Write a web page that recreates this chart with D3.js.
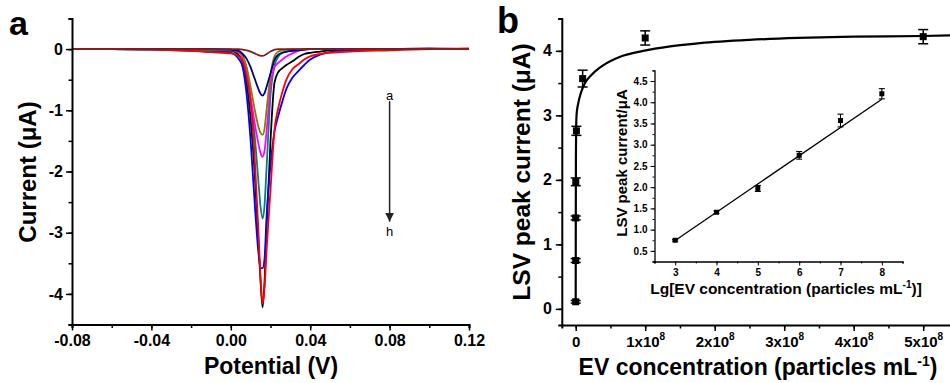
<!DOCTYPE html>
<html><head><meta charset="utf-8">
<script src="https://cdn.jsdelivr.net/npm/d3@7"></script>
<style>
body{margin:0;background:#fff;}
svg{display:block;}
text{font-family:"Liberation Sans",Arial,sans-serif;}
</style>
</head><body>
<svg id="chart" width="950" height="383"></svg>
<script>
// ---------- Panel a data: LSV curves (potential V, current uA) ----------
const potentials = [-0.08,-0.06,-0.04,-0.02,-0.01,0.000,0.004,0.006,0.008,0.010,0.012,0.014,0.015,0.016,0.017,0.018,0.020,0.022,0.024,0.026,0.028,0.031,0.034,0.037,0.040,0.045,0.050,0.060,0.080,0.100,0.120];
const currentA = [0,0,0,0,0,0,0,-0.01,-0.02,-0.04,-0.07,-0.10,-0.11,-0.11,-0.10,-0.08,-0.04,-0.01,0,0,0,0,0,0,0,0,0,0,0,0,0];
const currentB = [0,0,0,0,0,-0.01,-0.03,-0.08,-0.16,-0.30,-0.48,-0.66,-0.73,-0.76,-0.72,-0.62,-0.40,-0.18,-0.09,-0.06,-0.04,-0.03,-0.02,-0.01,0,0,0,0,0,0,0];
const currentC = [0,0,0,0,0,-0.01,-0.04,-0.12,-0.30,-0.62,-0.98,-1.28,-1.37,-1.40,-1.30,-1.00,-0.42,-0.12,-0.04,-0.02,-0.01,0,0,0,0,0,0,0,0,0,0];
const currentD = [0,0,0,0,0,-0.01,-0.05,-0.14,-0.36,-0.78,-1.20,-1.56,-1.70,-1.76,-1.66,-1.35,-0.60,-0.30,-0.22,-0.17,-0.12,-0.07,-0.03,-0.01,0,0,0,0,0,0,0];
const currentE = [0,0,-0.01,-0.01,-0.02,-0.02,-0.06,-0.12,-0.32,-0.85,-1.40,-2.20,-2.58,-2.77,-2.55,-1.95,-0.75,-0.28,-0.12,-0.06,-0.04,-0.02,-0.01,0,0,0,0,0,0,0,0];
const currentF = [0,0,-0.01,-0.03,-0.04,-0.06,-0.16,-0.30,-0.75,-1.50,-2.50,-3.35,-3.58,-3.58,-3.42,-2.75,-1.90,-1.35,-1.08,-0.85,-0.65,-0.47,-0.36,-0.26,-0.17,-0.09,-0.05,-0.02,0,0.01,0];
const currentG = [0,0,-0.01,-0.03,-0.05,-0.07,-0.12,-0.20,-0.45,-0.88,-1.75,-3.05,-3.75,-4.16,-3.90,-3.30,-2.30,-1.32,-0.95,-0.70,-0.50,-0.33,-0.25,-0.17,-0.12,-0.08,-0.06,-0.04,-0.02,0,0.01];
const currentH = [0,0,0,-0.01,-0.02,-0.03,-0.10,-0.22,-0.55,-1.15,-2.00,-3.20,-3.80,-4.22,-3.80,-2.95,-1.50,-0.55,-0.37,-0.31,-0.26,-0.20,-0.13,-0.08,-0.06,-0.04,-0.02,-0.01,0,0,0];
const curveSeries = [currentH, currentF, currentE, currentD, currentC, currentB, currentG, currentA];
const curveColors = ["#000000", "#0000ff", "#008080", "#ff00ff", "#808000", "#000080", "#ff0000", "#7f1f1f"];
const potentialTicks = [-0.08, -0.04, 0.00, 0.04, 0.08, 0.12];
const potentialTickLabels = ["-0.08", "-0.04", "0.00", "0.04", "0.08", "0.12"];
const currentTicks = [0, -1, -2, -3, -4];
const currentTickLabels = ["0", "-1", "-2", "-3", "-4"];

// ---------- Panel b data ----------
const evConc = [0, 1e3, 1e4, 1e5, 1e6, 1e7, 1e8, 5e8];
const peakCurrent = [0.11, 0.75, 1.41, 1.97, 2.76, 3.57, 4.20, 4.22];
const peakError = [0.02, 0.03, 0.03, 0.06, 0.07, 0.13, 0.11, 0.11];
const fitConc = [0, 0.001e8, 0.003e8, 0.006e8, 0.014e8, 0.037e8, 0.072e8, 0.134e8, 0.23e8, 0.40e8, 0.64e8, 0.97e8, 1.36e8, 1.79e8, 2.5e8, 3.2e8, 4.0e8, 5.0e8, 5.4e8];
const fitCurrent = [0.10, 1.20, 2.30, 2.78, 3.03, 3.19, 3.34, 3.50, 3.63, 3.78, 3.91, 4.00, 4.07, 4.12, 4.17, 4.20, 4.22, 4.23, 4.24];
const concTicks = [0, 1e8, 2e8, 3e8, 4e8, 5e8];
const concTickLabels = ["0", "1x10", "2x10", "3x10", "4x10", "5x10"];
const peakTicks = [0, 1, 2, 3, 4];

// ---------- Inset data ----------
const lgConc = [3, 4, 5, 6, 7, 8];
const lgCurrent = [0.75, 1.41, 1.97, 2.75, 3.57, 4.20];
const lgError = [0.02, 0.03, 0.07, 0.09, 0.15, 0.12];
const lgFitX = [3, 8];
const lgFitY = [0.745, 4.07];
const lgTicks = [3, 4, 5, 6, 7, 8];
const lgCurrentTicks = [0.5, 1.0, 1.5, 2.0, 2.5, 3.0, 3.5, 4.0, 4.5];

const svg = d3.select("#chart");
const FONT = '"Liberation Sans",Arial,sans-serif';

function styleAxis(g, sw) {
  g.select(".domain").attr("stroke", "#000").attr("stroke-width", sw);
  g.selectAll(".tick line").attr("stroke", "#000").attr("stroke-width", sw * 0.75);
  g.selectAll(".tick text").attr("fill", "#000").attr("font-family", FONT).attr("font-weight", "bold");
}

function addAxes(x, y, xMajor, xMinor, yMajor, yMinor, xLabels, yLabels, o) {
  const gx = svg.append("g").attr("transform", `translate(0,${y.range()[0]})`);
  gx.call(d3.axisBottom(x).tickValues(xMinor).tickSize(o.minor).tickFormat(""));
  styleAxis(gx, o.sw);
  const gx2 = svg.append("g").attr("transform", `translate(0,${y.range()[0]})`);
  gx2.call(d3.axisBottom(x).tickValues(xMajor).tickSize(o.major).tickPadding(o.xpad)
    .tickFormat((d, i) => xLabels[i]));
  styleAxis(gx2, o.sw);
  gx2.select(".domain").remove();
  gx2.selectAll(".tick text").attr("font-size", o.xfs || o.fs);

  const gy = svg.append("g").attr("transform", `translate(${x.range()[0]},0)`);
  gy.call(d3.axisLeft(y).tickValues(yMinor).tickSize(o.minor).tickFormat(""));
  styleAxis(gy, o.sw);
  const gy2 = svg.append("g").attr("transform", `translate(${x.range()[0]},0)`);
  gy2.call(d3.axisLeft(y).tickValues(yMajor).tickSize(o.major).tickPadding(o.ypad)
    .tickFormat((d, i) => yLabels[i]));
  styleAxis(gy2, o.sw);
  gy2.select(".domain").remove();
  gy2.selectAll(".tick text").attr("font-size", o.fs);
  return gx2;
}

// ================= Panel a =================
const xA = d3.scaleLinear().domain([-0.08, 0.12]).range([72, 469]);
const yA = d3.scaleLinear().domain([-4.5, 0.5]).range([324.5, 18.5]);

const lineA = d3.line().x((d, i) => xA(potentials[i])).y(d => yA(d)).curve(d3.curveMonotoneX);
curveSeries.forEach((s, k) => {
  svg.append("path").attr("d", lineA(s)).attr("fill", "none")
    .attr("stroke", curveColors[k]).attr("stroke-width", 1.8).attr("stroke-linejoin", "round");
});

addAxes(xA, yA, potentialTicks, d3.range(-0.08, 0.1201, 0.02), currentTicks,
  d3.range(-4.5, 0.501, 0.5), potentialTickLabels, currentTickLabels,
  {major: 6, minor: 3.5, sw: 2, fs: 16, xpad: 4, ypad: 3});

// arrow a -> h
svg.append("defs").append("marker").attr("id", "ah").attr("viewBox", "0 0 10 10")
  .attr("refX", 10).attr("refY", 5).attr("markerWidth", 6).attr("markerHeight", 8)
  .attr("orient", "auto").append("path").attr("d", "M0,0 L10,5 L0,10 Z").attr("fill", "#222");
svg.append("line").attr("x1", xA(0.08)).attr("x2", xA(0.08))
  .attr("y1", yA(-0.85)).attr("y2", yA(-2.82))
  .attr("stroke", "#222").attr("stroke-width", 1.5).attr("marker-end", "url(#ah)");
svg.append("text").attr("x", xA(0.08)).attr("y", yA(-0.83)).attr("text-anchor", "middle")
  .attr("font-size", 13).text("a");
svg.append("text").attr("x", xA(0.08)).attr("y", yA(-3.06)).attr("text-anchor", "middle")
  .attr("font-size", 13).text("h");

svg.append("text").attr("x", 271).attr("y", 374).attr("text-anchor", "middle")
  .attr("font-size", 23).attr("font-weight", "bold").text("Potential (V)");
svg.append("text").attr("transform", "translate(36,172) rotate(-90)").attr("text-anchor", "middle")
  .attr("font-size", 24).attr("font-weight", "bold").text("Current (μA)");
svg.append("text").attr("x", 9).attr("y", 35).attr("font-size", 34).attr("font-weight", "bold").text("a");

// ================= Panel b =================
const xB = d3.scaleLinear().domain([-0.2e8, 5.4e8]).range([561.8, 951]);
const yB = d3.scaleLinear().domain([-0.25, 4.5]).range([325, 18.6]);

const gxB = addAxes(xB, yB, concTicks, d3.range(-0.0e8, 5.41e8, 0.5e8), peakTicks,
  d3.range(0, 4.51, 0.5), concTickLabels, peakTicks.map(String),
  {major: 6, minor: 3.5, sw: 2, fs: 16, xfs: 15, xpad: 5, ypad: 4});
gxB.selectAll(".tick text").each(function(d, i) {
  if (i === 0) return;
  d3.select(this).append("tspan").attr("dy", -7).attr("font-size", 10).text("8");
});

svg.append("path").attr("d", d3.line().x((d, i) => xB(fitConc[i])).y(d => yB(d)).curve(d3.curveMonotoneX)(fitCurrent))
  .attr("fill", "none").attr("stroke", "#000").attr("stroke-width", 2.2);

const gErrB = svg.append("g").attr("stroke", "#000").attr("stroke-width", 1.5);
evConc.forEach((c, i) => {
  const cx = xB(c), y1 = yB(peakCurrent[i] - peakError[i]), y2 = yB(peakCurrent[i] + peakError[i]);
  gErrB.append("line").attr("x1", cx).attr("x2", cx).attr("y1", y1).attr("y2", y2);
  gErrB.append("line").attr("x1", cx - 5).attr("x2", cx + 5).attr("y1", y1).attr("y2", y1);
  gErrB.append("line").attr("x1", cx - 5).attr("x2", cx + 5).attr("y1", y2).attr("y2", y2);
});
svg.append("g").selectAll("rect").data(evConc).join("rect")
  .attr("x", d => xB(d) - 3.5).attr("y", (d, i) => yB(peakCurrent[i]) - 3.5)
  .attr("width", 7).attr("height", 7).attr("fill", "#000");

const xt = svg.append("text").attr("x", 758).attr("y", 375).attr("text-anchor", "middle")
  .attr("font-size", 23).attr("font-weight", "bold");
xt.append("tspan").text("EV concentration (particles mL");
xt.append("tspan").attr("dy", -9).attr("font-size", 14).text("-1");
xt.append("tspan").attr("dy", 9).text(")");
svg.append("text").attr("transform", "translate(530,172) rotate(-90)").attr("text-anchor", "middle")
  .attr("font-size", 24.5).attr("font-weight", "bold").text("LSV peak current (μA)");
svg.append("text").attr("x", 497).attr("y", 33).attr("font-size", 36).attr("font-weight", "bold").text("b");

// ================= Inset =================
const xI = d3.scaleLinear().domain([2.5, 8.5]).range([654.5, 902.5]);
const yI = d3.scaleLinear().domain([0.25, 4.75]).range([261.5, 70.4]);

addAxes(xI, yI, lgTicks, d3.range(2.5, 8.51, 0.5), lgCurrentTicks, d3.range(0.25, 4.751, 0.25),
  lgTicks.map(String), lgCurrentTicks.map(d => d.toFixed(1)),
  {major: 4, minor: 2, sw: 1.3, fs: 10, xpad: 3, ypad: 3});

svg.append("path").attr("d", d3.line().x((d, i) => xI(lgFitX[i])).y(d => yI(d))(lgFitY))
  .attr("fill", "none").attr("stroke", "#000").attr("stroke-width", 1.3);
const gErrI = svg.append("g").attr("stroke", "#000").attr("stroke-width", 1.1);
lgConc.forEach((c, i) => {
  const cx = xI(c), y1 = yI(lgCurrent[i] - lgError[i]), y2 = yI(lgCurrent[i] + lgError[i]);
  gErrI.append("line").attr("x1", cx).attr("x2", cx).attr("y1", y1).attr("y2", y2);
  gErrI.append("line").attr("x1", cx - 3).attr("x2", cx + 3).attr("y1", y1).attr("y2", y1);
  gErrI.append("line").attr("x1", cx - 3).attr("x2", cx + 3).attr("y1", y2).attr("y2", y2);
});
svg.append("g").selectAll("rect").data(lgConc).join("rect")
  .attr("x", d => xI(d) - 2.5).attr("y", (d, i) => yI(lgCurrent[i]) - 2.5)
  .attr("width", 5).attr("height", 5).attr("fill", "#000");

const it = svg.append("text").attr("x", 786).attr("y", 294).attr("text-anchor", "middle")
  .attr("font-size", 15.5).attr("font-weight", "bold");
it.append("tspan").text("Lg[EV concentration (particles mL");
it.append("tspan").attr("dy", -6).attr("font-size", 10).text("-1");
it.append("tspan").attr("dy", 6).text(")]");
svg.append("text").attr("transform", "translate(627,163) rotate(-90)").attr("text-anchor", "middle")
  .attr("font-size", 15).attr("font-weight", "bold").text("LSV peak current/μA");
</script>
</body></html>
